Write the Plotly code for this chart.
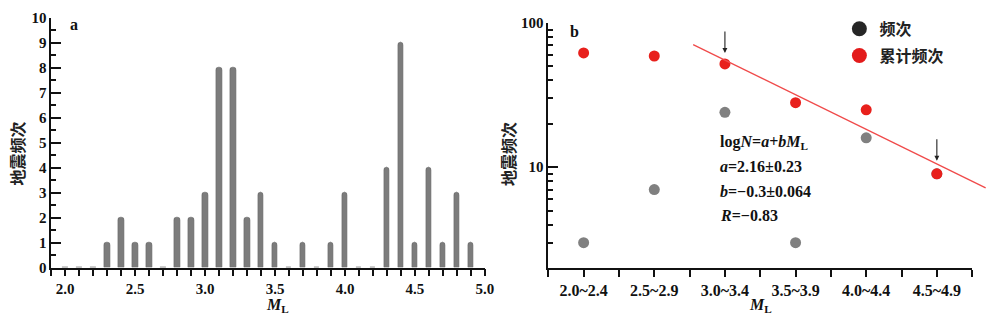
import plotly.graph_objects as go
import math

# ---------- data: panel a ----------
mag = [2.0, 2.1, 2.2, 2.3, 2.4, 2.5, 2.6, 2.7, 2.8, 2.9,
       3.0, 3.1, 3.2, 3.3, 3.4, 3.5, 3.6, 3.7, 3.8, 3.9,
       4.0, 4.1, 4.2, 4.3, 4.4, 4.5, 4.6, 4.7, 4.8, 4.9]
count = [0, 0, 0, 1, 2, 1, 1, 0, 2, 2,
         3, 8, 8, 2, 3, 1, 0, 1, 0, 1,
         3, 0, 0, 4, 9, 1, 4, 1, 3, 1]

# ---------- data: panel b ----------
bins = ["2.0~2.4", "2.5~2.9", "3.0~3.4", "3.5~3.9", "4.0~4.4", "4.5~4.9"]
bin_pos = [0, 1, 2, 3, 4, 5]
freq = [3, 7, 24, 3, 16, 9]
cum_freq = [62, 59, 52, 28, 25, 9]
fit_x = [1.55, 5.69]
fit_y = [70.8, 7.2]
arrow_pos = [2, 5]
arrow_tip = [62, 11.1]

SERIF = "Liberation Serif"
CJK = "Noto Sans CJK SC"
BLACK = "#111111"

fig = go.Figure()

# panel a bars
fig.add_trace(go.Bar(
    x=mag, y=count, width=0.038,
    marker=dict(color="#7c7c7c", line=dict(color="#666666", width=0.6), cornerradius=3),
    xaxis="x", yaxis="y", showlegend=False))

# panel b : fit line on an overlay axis whose plot area extends past the axis end
fig.add_trace(go.Scatter(
    x=fit_x, y=fit_y, mode="lines",
    line=dict(color="#f04a4a", width=1.3),
    xaxis="x3", yaxis="y2", showlegend=False))
fig.add_trace(go.Scatter(
    x=bin_pos, y=freq, mode="markers",
    marker=dict(color="#808080", size=11, line=dict(width=0)),
    xaxis="x2", yaxis="y2", showlegend=False))
fig.add_trace(go.Scatter(
    x=bin_pos, y=cum_freq, mode="markers",
    marker=dict(color="#e8201c", size=11, line=dict(width=0)),
    xaxis="x2", yaxis="y2", showlegend=False))
# legend entries
fig.add_trace(go.Scatter(
    x=[None], y=[None], mode="markers", name="频次", legendgroup="g1",
    marker=dict(color="#262626", size=15), xaxis="x2", yaxis="y2"))
fig.add_trace(go.Scatter(
    x=[None], y=[None], mode="markers", name="累计频次", legendgroup="g2",
    marker=dict(color="#e31b1b", size=15), xaxis="x2", yaxis="y2"))

tickfont = dict(family=SERIF, size=15, color=BLACK, weight="bold")

annotations = []
# arrows
for p, t in zip(arrow_pos, arrow_tip):
    annotations.append(dict(
        x=p, y=math.log10(t), xref="x2", yref="y2", text="",
        showarrow=True, arrowhead=2, arrowsize=0.9, arrowwidth=1.1,
        arrowcolor="#222222", ax=0, ay=-23))

# panel letters
annotations.append(dict(x=0.075, y=0.9486, xref="paper", yref="paper", text="a",
                        showarrow=False, xanchor="center", yanchor="middle",
                        font=dict(family=SERIF, size=16, color=BLACK, weight="bold")))
annotations.append(dict(x=0.58, y=0.9245, xref="paper", yref="paper", text="b",
                        showarrow=False, xanchor="center", yanchor="middle",
                        font=dict(family=SERIF, size=16, color=BLACK, weight="bold")))

# fit text
fit_lines = ["log<i>N</i>=<i>a</i>+<i>bM</i><sub>L</sub>",
             "<i>a</i>=2.16±0.23",
             "<i>b</i>=−0.3±0.064",
             "<i>R</i>=−0.83"]
fit_line_y = [0.572, 0.4964, 0.4178, 0.3405]
for txt, yy in zip(fit_lines, fit_line_y):
    annotations.append(dict(x=0.725, y=yy, xref="paper", yref="paper", text=txt,
                            showarrow=False, xanchor="left", yanchor="middle",
                            font=dict(family=SERIF, size=16, color=BLACK, weight="bold")))

# y titles
for xx in [0.017, 0.512]:
    annotations.append(dict(x=xx, y=1 - 153 / 331, xref="paper", yref="paper",
                            text="地震频次", textangle=-90, showarrow=False,
                            xanchor="center", yanchor="middle",
                            font=dict(family=CJK, size=16, color="#222222", weight="bold")))
# x titles
for xx in [0.28, 0.767]:
    annotations.append(dict(x=xx, y=1 - 313 / 331, xref="paper", yref="paper",
                            text="<i>M</i><sub>L</sub>", showarrow=False,
                            xanchor="center", yanchor="middle",
                            font=dict(family=SERIF, size=16, color=BLACK, weight="bold")))

fig.update_layout(
    width=1000, height=331,
    margin=dict(l=0, r=0, t=0, b=0),
    paper_bgcolor="white", plot_bgcolor="rgba(0,0,0,0)",
    bargap=0,
    xaxis=dict(domain=[0.0517, 0.4893], range=[1.9, 5.0],
               tickmode="linear", tick0=2.0, dtick=0.5, tickformat=".1f",
               ticks="outside", ticklen=7, tickwidth=1.5, tickcolor=BLACK,
               minor=dict(dtick=0.1, tick0=2.0, ticks="outside", ticklen=7,
                          tickwidth=1.5, tickcolor=BLACK),
               showline=True, linecolor=BLACK, linewidth=1.5,
               showgrid=False, zeroline=False, tickfont=tickfont,
               anchor="y"),
    yaxis=dict(domain=[0.1761, 0.9698], range=[0, 10],
               tickmode="linear", tick0=0, dtick=1,
               ticks="inside", ticklen=10, tickwidth=1.5, tickcolor=BLACK,
               minor=dict(dtick=0.5, ticks="inside", ticklen=5,
                          tickwidth=1.5, tickcolor=BLACK),
               showline=True, linecolor=BLACK, linewidth=1.5,
               showgrid=False, zeroline=False, tickfont=tickfont,
               anchor="x"),
    xaxis2=dict(domain=[0.5533, 0.981], range=[-0.5, 5.5],
                tickmode="array", tickvals=bin_pos, ticktext=bins,
                ticks="outside", ticklen=7, tickwidth=1.5, tickcolor=BLACK,
                minor=dict(tickmode="array", tickvals=[-0.5, 0.5, 1.5, 2.5, 3.5, 4.5, 5.5],
                           ticks="outside", ticklen=7, tickwidth=1.5, tickcolor=BLACK),
                showline=True, linecolor=BLACK, linewidth=1.5,
                showgrid=False, zeroline=False,
                tickfont=dict(family=SERIF, size=16, color=BLACK, weight="bold"),
                anchor="y2"),
    xaxis3=dict(domain=[0.5533, 0.9953], range=[-0.5, 5.7], visible=False,
                showgrid=False, zeroline=False, anchor="y2"),
    yaxis2=dict(domain=[0.1743, 0.9526], type="log", range=[math.log10(2), 2],
                tickmode="array", tickvals=[10, 100], ticktext=["10", "100"],
                ticks="inside", ticklen=10, tickwidth=1.5, tickcolor=BLACK,
                minor=dict(tickmode="array",
                           tickvals=[3, 4, 5, 6, 7, 8, 9, 20, 30, 40, 50, 60, 70, 80, 90],
                           ticks="inside", ticklen=5, tickwidth=1.5, tickcolor=BLACK),
                showline=True, linecolor=BLACK, linewidth=1.5,
                showgrid=False, zeroline=False, tickfont=tickfont,
                anchor="x2"),
    legend=dict(x=0.847, y=0.988, xanchor="left", yanchor="top",
                font=dict(family=CJK, size=16, color="#222222", weight="bold"),
                bgcolor="rgba(0,0,0,0)", itemsizing="trace", tracegroupgap=3),
    annotations=annotations,
)

fig.write_html("out.html")
